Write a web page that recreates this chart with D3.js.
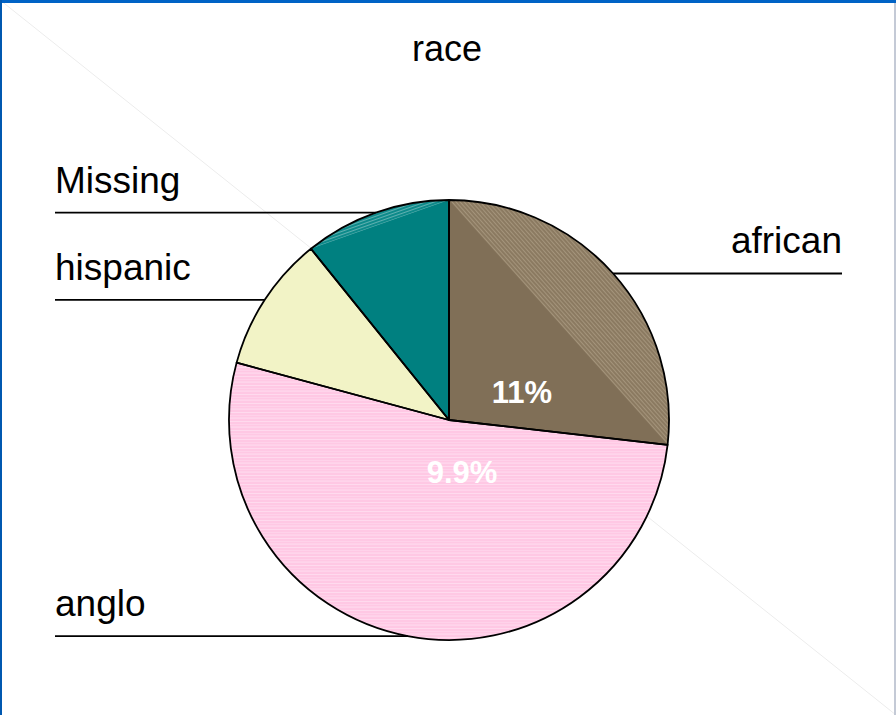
<!DOCTYPE html>
<html>
<head>
<script src="https://cdnjs.cloudflare.com/ajax/libs/d3/7.8.5/d3.min.js"></script>
<style>
  body { margin: 0; background: #fff; }
  text { font-family: "Liberation Sans", Arial, sans-serif; }
</style>
</head>
<body>
<div id="chart"></div>
<script>
// slice data, clockwise from 12 o'clock
var categories = ["african", "anglo", "hispanic", "Missing"];
var values = [26.8, 52.4, 10.0, 10.8];
var colors = ["#806f57", "#ffc8e4", "#f2f3c6", "#008080"];
var pctLabels = ["11%", "9.9%"];
var title = "race";

var w = 896, h = 715;
var cx = 449, cy = 420, r = 220;

var svg = d3.select("#chart").append("svg")
  .attr("width", w)
  .attr("height", h);

var defs = svg.append("defs");

// pink: horizontal light streaks
var pk = defs.append("pattern").attr("id", "pinkStripes")
  .attr("patternUnits", "userSpaceOnUse").attr("width", 40).attr("height", 9);
pk.append("rect").attr("width", 40).attr("height", 9).attr("fill", "#ffc8e4");
[[1, 1], [4, 0.6], [6.5, 1.2]].forEach(function(s) {
  pk.append("rect").attr("x", 0).attr("y", s[0]).attr("width", 40).attr("height", s[1])
    .attr("fill", "#ffdaee");
});

// frame + faint diagonal
svg.append("line").attr("x1", 0).attr("y1", 0).attr("x2", w).attr("y2", h)
  .attr("stroke", "#ececec").attr("stroke-width", 1);
svg.append("rect").attr("x", 0).attr("y", 0).attr("width", w).attr("height", 3).attr("fill", "#0063c6");
svg.append("rect").attr("x", 0).attr("y", 0).attr("width", 2).attr("height", h).attr("fill", "#0058b0");
svg.append("rect").attr("x", w - 2).attr("y", 3).attr("width", 2).attr("height", h).attr("fill", "#c4cad6");

svg.append("text")
  .attr("x", 447).attr("y", 61)
  .attr("text-anchor", "middle")
  .attr("font-size", 36)
  .text(title);

var pie = d3.pie().sort(null).value(function(d) { return d; });
var arcs = pie(values);
var arc = d3.arc().innerRadius(0).outerRadius(r);

var g = svg.append("g").attr("transform", "translate(" + cx + "," + cy + ")");

function pt(a, rad) { return [rad * Math.sin(a), -rad * Math.cos(a)]; }

// stripe pattern running parallel to a slice's chord
function chordPattern(id, d, base, light) {
  var p0 = pt(d.startAngle, r), p1 = pt(d.endAngle, r);
  var ang = Math.atan2(p1[1] - p0[1], p1[0] - p0[0]) * 180 / Math.PI;
  var p = defs.append("pattern").attr("id", id)
    .attr("patternUnits", "userSpaceOnUse").attr("width", 3).attr("height", 20)
    .attr("patternTransform", "rotate(" + (ang - 90) + ")");
  p.append("rect").attr("width", 3).attr("height", 20).attr("fill", base);
  p.append("rect").attr("x", 0).attr("width", 1).attr("height", 20).attr("fill", light);
}
chordPattern("afrStripes", arcs[0], "#8b7a61", "#a4947b");
chordPattern("tealStripes", arcs[3], "#0d8a8a", "#5fb0b0");

g.selectAll("path.slice")
  .data(arcs)
  .enter().append("path")
  .attr("class", "slice")
  .attr("d", arc)
  .attr("fill", function(d, i) { return i === 1 ? "url(#pinkStripes)" : colors[i]; });

// circular segment (between chord and arc) gets the streaked shading
[[0, "afrStripes"], [3, "tealStripes"]].forEach(function(s) {
  var d = arcs[s[0]];
  var p0 = pt(d.startAngle, r);
  var seg = d3.path();
  seg.moveTo(p0[0], p0[1]);
  seg.arc(0, 0, r, d.startAngle - Math.PI / 2, d.endAngle - Math.PI / 2);
  seg.closePath();
  g.append("path").attr("d", seg.toString()).attr("fill", "url(#" + s[1] + ")");
});

g.selectAll("path.edge")
  .data(arcs)
  .enter().append("path")
  .attr("class", "edge")
  .attr("d", arc)
  .attr("fill", "none")
  .attr("stroke", "#000")
  .attr("stroke-width", 1.8)
  .attr("stroke-linejoin", "round");

// leader lines and category labels
var leftX = 55, rightX = 842;
arcs.forEach(function(d, i) {
  var mid = (d.startAngle + d.endAngle) / 2;
  var p = pt(mid, r);
  var right = p[0] > 0;
  var xEnd = (right ? rightX : leftX) - cx;
  g.append("line")
    .attr("x1", p[0]).attr("y1", p[1])
    .attr("x2", xEnd).attr("y2", p[1])
    .attr("stroke", "#000").attr("stroke-width", 1.8);
  g.append("text")
    .attr("x", xEnd).attr("y", p[1] - 20)
    .attr("text-anchor", right ? "end" : "start")
    .attr("font-size", 37)
    .text(categories[i]);
});

// percentage labels as they sit in the original
var pctPos = [[73, -17], [13, 63]];
pctLabels.forEach(function(t, i) {
  g.append("text")
    .attr("x", pctPos[i][0]).attr("y", pctPos[i][1])
    .attr("text-anchor", "middle")
    .attr("font-size", 31)
    .attr("font-weight", "bold")
    .attr("fill", "#fff")
    .text(t);
});
</script>
</body>
</html>
